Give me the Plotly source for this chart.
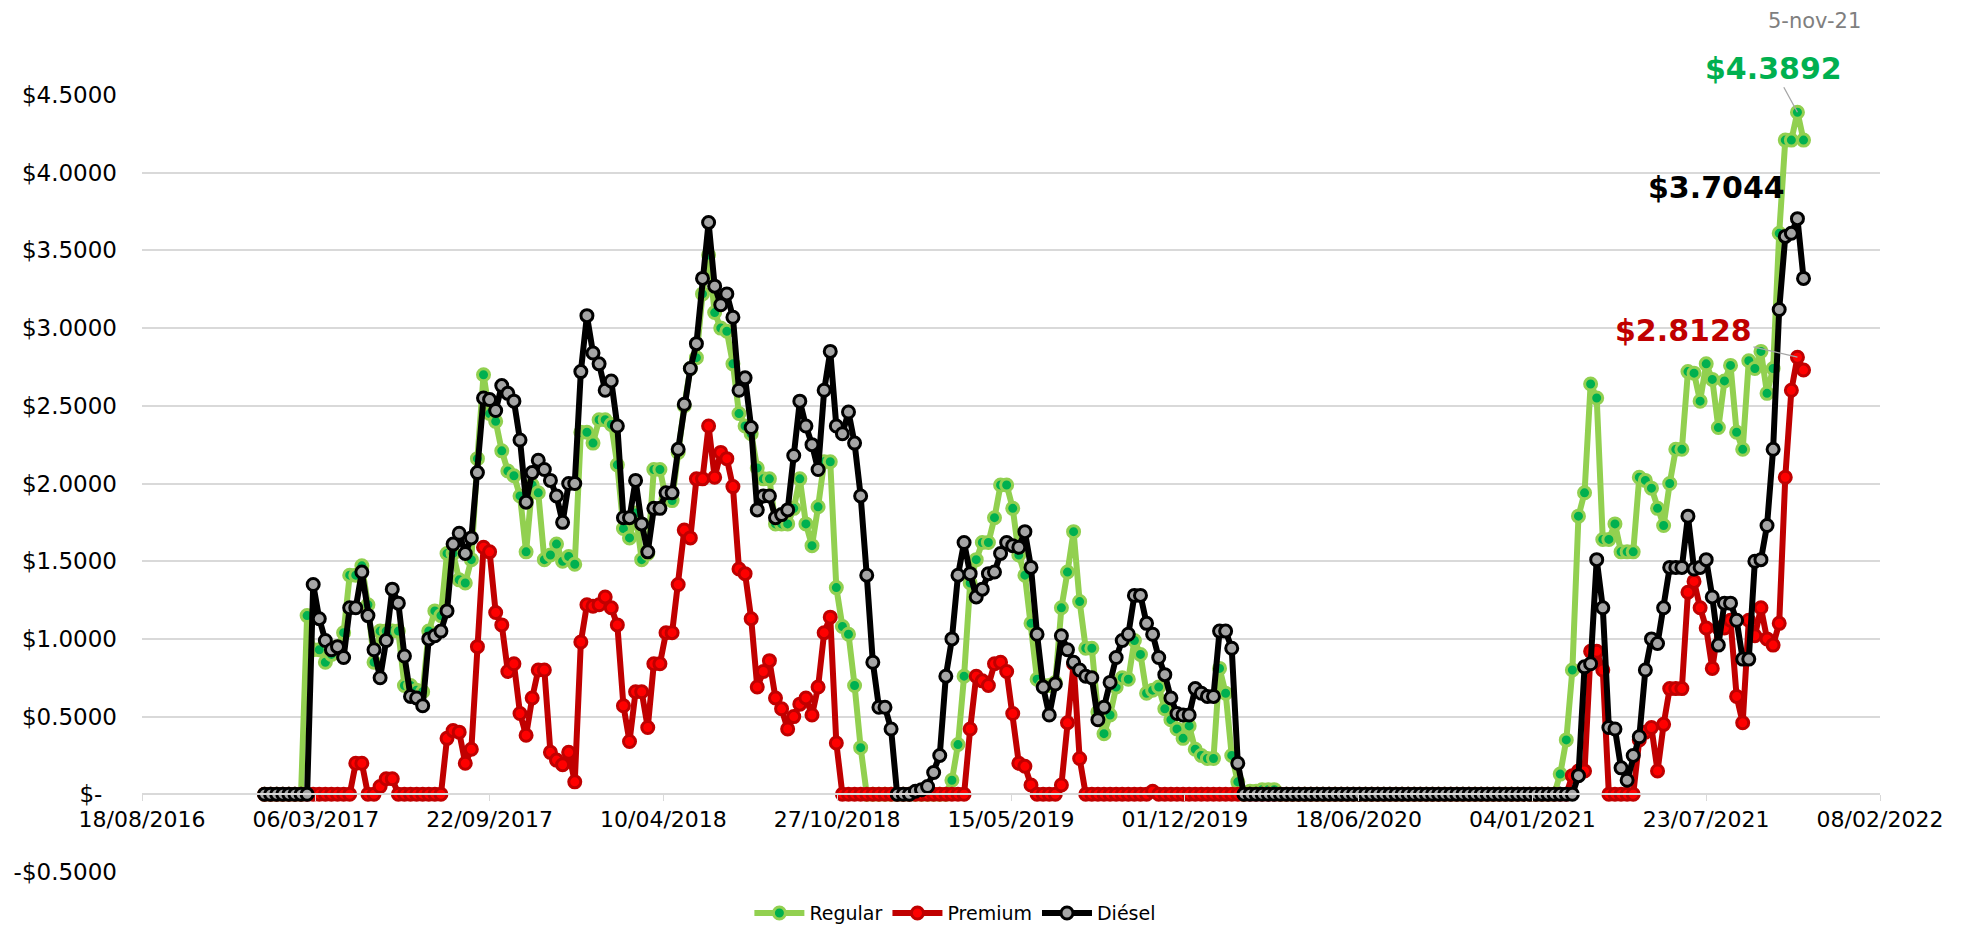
import pandas as pd
import plotly.graph_objects as go

# weekly prices (Friday), first week 06/01/2017
regular = [
    0, 0, 0, 0, 0, 0, 0,
    1.15, 0.93, 0.93, 0.85, 0.90, 0.95, 1.04, 1.41, 1.41, 1.47,
    1.22, 0.85, 1.05, 1.05, 1.05, 1.05, 0.70, 0.70, 0.67, 0.66,
    1.05, 1.18, 1.15, 1.55, 1.55, 1.38, 1.36, 1.51, 2.16, 2.70,
    2.45, 2.40, 2.21, 2.08, 2.05, 1.92, 1.56, 1.99, 1.94, 1.51,
    1.54, 1.61, 1.50, 1.53, 1.48, 2.33, 2.33, 2.26, 2.41, 2.41,
    2.38, 2.12, 1.71, 1.65, 1.81, 1.51, 1.55, 2.09, 2.09, 1.90,
    1.89, 2.20, 2.50, 2.74, 2.81, 3.22, 3.47, 3.10, 3.00, 2.98,
    2.77, 2.45, 2.37, 2.32, 2.10, 2.03, 2.03, 1.74, 1.74, 1.74,
    1.84, 2.03, 1.74, 1.60, 1.85, 2.14, 2.14, 1.33, 1.08, 1.03,
    0.70, 0.30,
    0, 0, 0, 0, 0, 0, 0, 0, 0, 0, 0, 0, 0, 0,
    0.09, 0.32, 0.76, 1.36, 1.51, 1.62, 1.62, 1.78, 1.99, 1.99,
    1.84, 1.54, 1.41, 1.10, 0.74, 0.70, 0.70, 0.72, 1.20, 1.43,
    1.69, 1.24, 0.94, 0.94, 0.53, 0.39, 0.51, 0.69, 0.75, 0.74,
    0.99, 0.90, 0.65, 0.67, 0.69, 0.55, 0.48, 0.42, 0.36, 0.44,
    0.29, 0.25, 0.23, 0.23, 0.81, 0.65, 0.25, 0.08, 0, 0.02,
    0.02, 0.03, 0.03, 0.03,
    0, 0, 0, 0, 0, 0, 0, 0, 0, 0,
    0, 0, 0, 0, 0, 0, 0, 0, 0, 0,
    0, 0, 0, 0, 0, 0, 0, 0, 0, 0,
    0, 0, 0, 0, 0, 0, 0, 0, 0, 0,
    0, 0, 0, 0, 0, 0,
    0.13, 0.35, 0.80, 1.79, 1.94, 2.64, 2.55, 1.64, 1.64, 1.74,
    1.56, 1.56, 1.56, 2.04, 2.02, 1.97, 1.84, 1.73, 2.00, 2.22,
    2.22, 2.72, 2.71, 2.53, 2.77, 2.67, 2.36, 2.66, 2.76, 2.33,
    2.22, 2.79, 2.74, 2.85, 2.58, 2.74, 3.61, 4.21, 4.21, 4.3892, 4.21,
]

premium = [
    0, 0, 0, 0, 0, 0, 0, 0, 0, 0, 0, 0, 0, 0, 0,
    0.20, 0.20, 0, 0, 0.05, 0.10, 0.10,
    0, 0, 0, 0, 0, 0, 0, 0,
    0.36, 0.41, 0.40, 0.20, 0.29, 0.95, 1.59, 1.56, 1.17, 1.09,
    0.79, 0.84, 0.52, 0.38, 0.62, 0.80, 0.80, 0.27, 0.22, 0.19,
    0.27, 0.08, 0.98, 1.22, 1.21, 1.22, 1.27, 1.20, 1.09, 0.57,
    0.34, 0.66, 0.66, 0.43, 0.84, 0.84, 1.04, 1.04, 1.35, 1.70,
    1.65, 2.03, 2.03, 2.37, 2.04, 2.20, 2.16, 1.98, 1.45, 1.42,
    1.13, 0.69, 0.79, 0.86, 0.62, 0.55, 0.42, 0.50, 0.58, 0.62,
    0.51, 0.69, 1.04, 1.14, 0.33,
    0, 0, 0, 0, 0, 0, 0, 0, 0, 0, 0, 0, 0, 0, 0, 0, 0, 0, 0, 0, 0,
    0.42, 0.76, 0.73, 0.70, 0.84, 0.85, 0.79, 0.52, 0.20, 0.18,
    0.06, 0, 0, 0, 0, 0.06, 0.46, 0.84, 0.23,
    0, 0, 0, 0, 0, 0, 0, 0, 0, 0, 0,
    0.02,
    0, 0, 0, 0, 0, 0, 0, 0, 0, 0,
    0, 0, 0, 0, 0, 0, 0, 0, 0, 0,
    0, 0, 0, 0, 0, 0, 0, 0, 0, 0,
    0, 0, 0, 0, 0, 0, 0, 0, 0, 0,
    0, 0, 0, 0, 0, 0, 0, 0, 0, 0,
    0, 0, 0, 0, 0, 0, 0, 0, 0, 0,
    0, 0, 0, 0, 0, 0, 0,
    0, 0.12, 0.15, 0.15, 0.92, 0.92, 0.80, 0, 0, 0,
    0, 0, 0.35, 0.40, 0.43, 0.15, 0.45, 0.68, 0.68, 0.68,
    1.30, 1.37, 1.20, 1.07, 0.81, 1.07, 1.07, 1.12, 0.63, 0.46,
    1.12, 1.02, 1.20, 1.00, 0.96, 1.10, 2.04, 2.60, 2.8128, 2.73,
]

diesel = [
    0, 0, 0, 0, 0, 0, 0, 0,
    1.35, 1.13, 0.99, 0.93, 0.95, 0.88, 1.20, 1.20, 1.43, 1.15,
    0.93, 0.75, 0.99, 1.32, 1.23, 0.89, 0.63, 0.62, 0.57, 1.00,
    1.02, 1.05, 1.18, 1.61, 1.68, 1.55, 1.65, 2.07, 2.55, 2.54,
    2.47, 2.63, 2.58, 2.53, 2.28, 1.88, 2.07, 2.15, 2.09, 2.02,
    1.92, 1.75, 2.00, 2.00, 2.72, 3.08, 2.84, 2.77, 2.60, 2.66,
    2.37, 1.78, 1.78, 2.02, 1.74, 1.56, 1.84, 1.84, 1.94, 1.94,
    2.22, 2.51, 2.74, 2.90, 3.32, 3.68, 3.27, 3.15, 3.22, 3.07,
    2.60, 2.68, 2.36, 1.83, 1.92, 1.92, 1.78, 1.80, 1.83, 2.18,
    2.53, 2.37, 2.25, 2.09, 2.60, 2.85, 2.37, 2.32, 2.46, 2.26,
    1.92, 1.41, 0.85, 0.56, 0.56, 0.42, 0, 0, 0, 0.02,
    0.03, 0.05, 0.14, 0.25, 0.76, 1.00, 1.41, 1.62, 1.42, 1.27,
    1.32, 1.42, 1.43, 1.55, 1.62, 1.60, 1.59, 1.69, 1.46, 1.03,
    0.69, 0.51, 0.71, 1.02, 0.93, 0.85, 0.80, 0.76, 0.75, 0.48,
    0.56, 0.72, 0.88, 0.99, 1.03, 1.28, 1.28, 1.10, 1.03, 0.88,
    0.77, 0.62, 0.52, 0.51, 0.51, 0.68, 0.65, 0.63, 0.63, 1.05,
    1.05, 0.94, 0.20,
    0, 0, 0, 0, 0, 0, 0, 0, 0, 0,
    0, 0, 0, 0, 0, 0, 0, 0, 0, 0,
    0, 0, 0, 0, 0, 0, 0, 0, 0, 0,
    0, 0, 0, 0, 0, 0, 0, 0, 0, 0,
    0, 0, 0, 0, 0, 0, 0, 0, 0, 0,
    0, 0,
    0, 0, 0, 0.12, 0.82, 0.84, 1.51, 1.20, 0.43, 0.42,
    0.17, 0.09, 0.25, 0.37, 0.80, 1.00, 0.97, 1.20, 1.46, 1.46,
    1.46, 1.79, 1.45, 1.46, 1.51, 1.27, 0.96, 1.23, 1.23, 1.12,
    0.87, 0.87, 1.50, 1.51, 1.73, 2.22, 3.12, 3.59, 3.61, 3.7044, 3.32,
]

dates = pd.date_range("2017-01-06", periods=len(regular), freq="7D")

y_ticks = [-0.5, 0, 0.5, 1.0, 1.5, 2.0, 2.5, 3.0, 3.5, 4.0, 4.5]
y_labels = ["-$0.5000", "$-\u00a0\u00a0", "$0.5000", "$1.0000", "$1.5000", "$2.0000",
            "$2.5000", "$3.0000", "$3.5000", "$4.0000", "$4.5000"]

FONT = "DejaVu Sans"

series = [
    ("Regular", regular, "#92D050", "#00B050", "#92D050"),
    ("Premium", premium, "#C00000", "#FF0000", "#C00000"),
    ("Diésel", diesel, "#000000", "#A5A5A5", "#000000"),
]

fig = go.Figure()
for name, vals, line_col, fill_col, edge_col in series:
    fig.add_trace(go.Scatter(
        x=dates[:len(vals)], y=vals, name=name, mode="lines+markers",
        line=dict(color=line_col, width=6),
        marker=dict(size=12, color=fill_col, line=dict(color=edge_col, width=3)),
        cliponaxis=False,
    ))

# value labels on the week of 5-nov-21 (diesel label has no visible leader)
k = 252
labels = [
    (regular[k], "#00B050", -24, -44, "#A6A6A6"),
    (diesel[k], "#000000", -81, -31, "rgba(0,0,0,0)"),
    (premium[k], "#C00000", -114, -27, "#A6A6A6"),
]
for val, col, ax, ay, leader in labels:
    fig.add_annotation(
        x=dates[k], y=val, text=f"${val:.4f}", showarrow=True,
        arrowhead=0, arrowwidth=1.3, arrowcolor=leader, ax=ax, ay=ay,
        font=dict(family=FONT, size=30, color=col, weight="bold"),
    )
fig.add_annotation(
    xref="paper", yref="paper", x=0.9626, y=1.095, xanchor="center", yanchor="middle",
    text="5-nov-21", showarrow=False,
    font=dict(family=FONT, size=21, color="#7F7F7F"),
)

fig.update_layout(
    width=1967, height=925,
    margin=dict(l=142, r=87, t=95, b=53, autoexpand=False),
    paper_bgcolor="white", plot_bgcolor="white",
    font=dict(family=FONT, size=21, color="#000000"),
    showlegend=True,
    legend=dict(orientation="h", x=0.468, xanchor="center", y=-0.053, yanchor="middle",
                font=dict(family=FONT, size=19), itemwidth=50),
    xaxis=dict(
        type="date", range=["2016-08-18", "2022-02-08"],
        tick0="2016-08-18", dtick=200 * 86400000, tickformat="%d/%m/%Y",
        anchor="free", position=0.1,
        showgrid=False, showline=True, linecolor="#D9D9D9", linewidth=1.5,
        ticks="outside", ticklen=6, tickcolor="#D9D9D9",
        tickfont=dict(family=FONT, size=22),
    ),
    yaxis=dict(
        range=[-0.5001, 4.5001], tickvals=y_ticks, ticktext=y_labels,
        showgrid=True, gridcolor="#D9D9D9", gridwidth=1.5, zeroline=False,
        ticks="", ticklabelstandoff=24,
        tickfont=dict(family=FONT, size=23),
    ),
)

# the default page has an 8px body margin; remove it so the figure sits at 0,0
fig.write_html("out.html", config={"displayModeBar": False},
               post_script="document.body.style.margin='0';")
